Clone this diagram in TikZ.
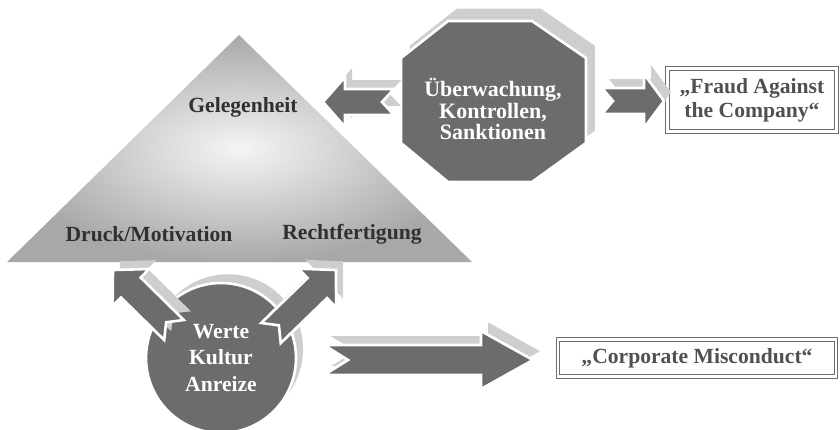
\documentclass[tikz,border=0pt]{standalone}
\usepackage{fontspec}
\setmainfont{Liberation Serif}
\usetikzlibrary{calc, positioning, shadows}
\definecolor{darkfill}{RGB}{108,108,108}
\definecolor{lightrim}{RGB}{206,206,206}
\definecolor{labeltext}{RGB}{48,48,48}
\definecolor{boxtext}{RGB}{80,80,80}
\definecolor{boxline}{RGB}{110,110,110}

% notched block arrow: [extra] {tail} {tip} {body half} {head half} {head length} {notch}
\newcommand{\blockarrow}[7][]{%
  \coordinate (ba-h) at ($(#3)!#6!(#2)$);
  \coordinate (ba-n) at ($(#2)!#7!(#3)$);
  \path[blockfill, rim, #1] ($(#2)!#4!90:(#3)$) -- ($(ba-h)!#4!90:(#3)$)
    -- ($(ba-h)!#5!90:(#3)$) -- (#3) -- ($(ba-h)!#5!-90:(#3)$)
    -- ($(ba-h)!#4!-90:(#3)$) -- ($(#2)!#4!-90:(#3)$) -- (ba-n) -- cycle;
}

\begin{document}
\begin{tikzpicture}[x=0.02cm, y=-0.02cm,
  font=\fontsize{12.3}{13.5}\selectfont\bfseries,
  corner/.style={text=labeltext},
  hub/.style={text=white, align=center},
  blockfill/.style={fill=darkfill, draw=white, line width=1.5pt},
  rim/.style={copy shadow={shadow xshift=4pt, shadow yshift=5pt, fill=lightrim, draw=none}},
  outbox/.style={draw=boxline, double=white, double distance=1.2pt, line width=0.6pt,
    text=boxtext, align=center, inner sep=2pt}]
\useasboundingbox (0,0) rectangle (840,430);

% fraud triangle
\shade[inner color=white!96!black, outer color=gray!68] (7,262) -- (239,35) -- (472,262) -- cycle;
\node[corner] (opp) at (243,107) {Gelegenheit};
\node[corner] (press) at (149,234) {Druck/Motivation};
\node[corner] (rat) at (352,234) {Rechtfertigung};

% values circle
\node[circle, blockfill, rim, minimum size=3cm, hub,
  font=\fontsize{12.3}{15.3}\selectfont\bfseries] (vals) at (221,358) {Werte\\Kultur\\Anreize};

% control octagon
\path[blockfill, copy shadow={shadow xshift=5pt, shadow yshift=7pt, fill=lightrim, draw=none}]
  (448,21) -- (532,21) -- (586,58) -- (586,143) -- (532,182) -- (448,182)
  -- (401,143) -- (401,58) -- cycle;
\node[hub, font=\fontsize{12.5}{12}\selectfont\bfseries] (ctrl) at (493,109)
  {Überwachung,\\Kontrollen,\\Sanktionen};

% outcomes
\node[outbox, minimum width=3.38cm, minimum height=1.26cm] (fraud) at (752,100)
  {„Fraud Against\\the Company“};
\node[outbox, minimum width=5.56cm, minimum height=0.74cm] (misc) at (697,358)
  {„Corporate Misconduct“};

% arrow ends
\coordinate (ctrl-w) at (394,102);
\coordinate (opp-e) at (323,102);
\coordinate (ctrl-e) at (602,101);
\coordinate (fraud-w) at (664,101);
\coordinate (vals-nw) at (174,330);
\coordinate (press-s) at (113,270);
\coordinate (vals-ne) at (271,333);
\coordinate (rat-s) at (336,270);
\coordinate (vals-e) at (324,360);
\coordinate (misc-w) at (533,360);

\blockarrow{ctrl-w}{opp-e}{0.26cm}{0.5cm}{0.44cm}{0.24cm}
\blockarrow{ctrl-e}{fraud-w}{0.26cm}{0.54cm}{0.4cm}{0.22cm}
\blockarrow{vals-nw}{press-s}{0.28cm}{0.52cm}{0.5cm}{0.22cm}
\blockarrow{vals-ne}{rat-s}{0.28cm}{0.54cm}{0.52cm}{0.22cm}
\blockarrow{vals-e}{misc-w}{0.3cm}{0.58cm}{1.04cm}{0.48cm}
\end{tikzpicture}
\end{document}
